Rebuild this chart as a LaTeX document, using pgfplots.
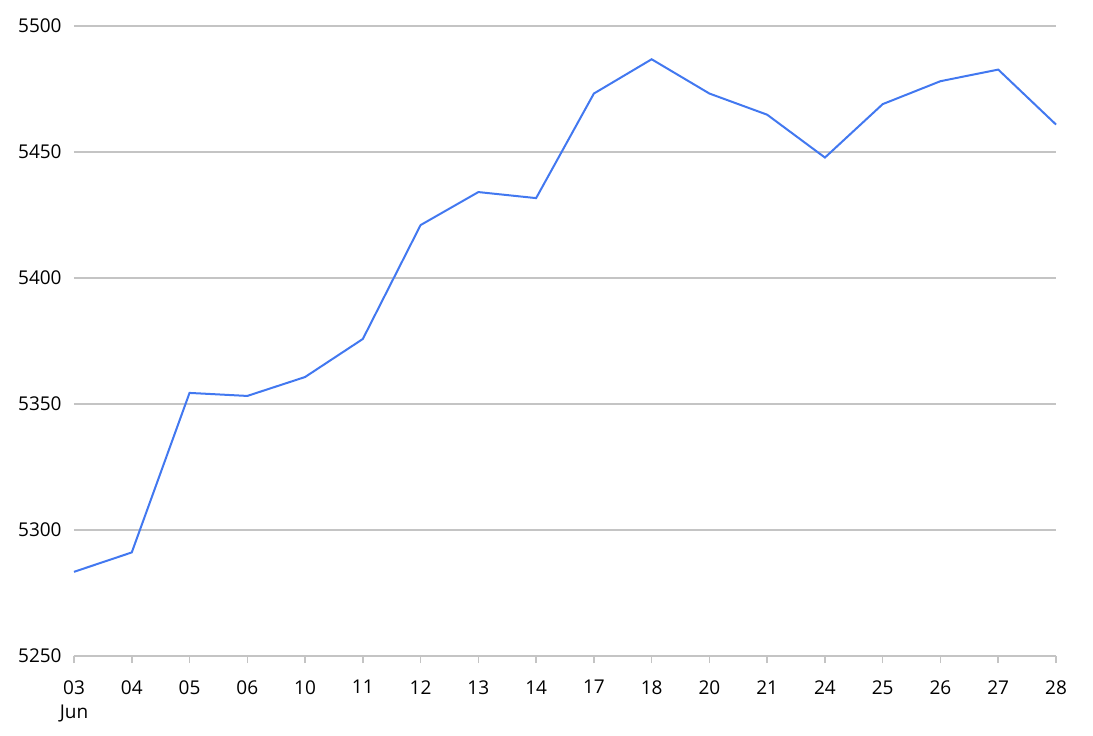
\documentclass[border=0pt]{standalone}
\usepackage{pgfplots}
\pgfplotsset{compat=1.18}
\usepackage{fontspec}
\setmainfont{Open Sans}
\definecolor{lineblue}{RGB}{66,120,240}
\definecolor{gridgray}{RGB}{196,196,196}
\begin{document}
\begin{tikzpicture}
\begin{axis}[
    scale only axis,
    width=491pt,
    height=315pt,
    xmin=0, xmax=17,
    ymin=5250, ymax=5500,
    ytick={5250,5300,5350,5400,5450,5500},
    xtick={0,...,17},
    xticklabels={{03\\Jun},04,05,06,10,11,12,13,14,17,18,20,21,24,25,26,27,28},
    xticklabel style={align=center, font=\fontsize{9.5pt}{12pt}\selectfont, inner sep=0pt, yshift=-8.5pt},
    yticklabel style={font=\fontsize{9.5pt}{11pt}\selectfont, inner sep=0pt, xshift=-2.5pt},
    /pgf/number format/assume math mode=true,
    /pgf/number format/1000 sep={},
    axis x line*=bottom,
    axis y line*=left,
    x axis line style={draw=gridgray, line width=0.75pt, -},
    y axis line style={draw=none},
    xtick style={draw=gridgray, line width=0.75pt},
    ytick style={draw=none},
    tick align=outside,
    major tick length=3.5pt,
    ymajorgrids,
    grid style={draw=gridgray, line width=0.75pt},
    clip=false,
    ]
\addplot[lineblue, line width=1pt] coordinates {
(0,5283.4) (1,5291.1) (2,5354.4) (3,5353.2) (4,5360.7) (5,5375.8)
(6,5421.0) (7,5434.1) (8,5431.7) (9,5473.2) (10,5486.8) (11,5473.2)
(12,5464.8) (13,5447.8) (14,5469.0) (15,5478.1) (16,5482.7) (17,5460.9)};
\end{axis}
\path ([shift={(-37pt,-39.5pt)}]current axis.south west) rectangle ([shift={(18.5pt,13pt)}]current axis.north east);
\end{tikzpicture}
\end{document}
